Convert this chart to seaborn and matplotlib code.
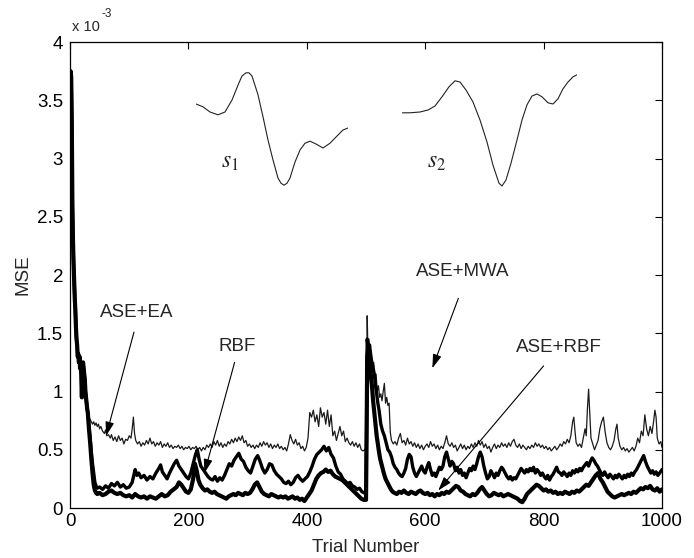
import matplotlib
matplotlib.use("Agg")
import matplotlib.pyplot as plt
import seaborn as sns

# MSE is stored in units of 1e-3 (the axis carries the "x 10^-3" factor)

# first 30 trials, all methods share the same start
early_trial = [0, 1, 2, 3, 4, 5, 6, 7, 8, 9, 10, 11, 12, 13, 14,
               15, 16, 17, 18, 19, 20, 21, 22, 23, 24, 25, 26, 27, 28, 29]
early_mse = [3.3, 3.75, 3.7, 3.3, 2.6, 2.3, 2.1, 1.95, 1.8, 1.7, 1.55, 1.45, 1.4, 1.3, 1.32,
             1.25, 1.3, 1.2, 1.22, 1.15, 0.95, 1.2, 1.25, 1.2, 1.15, 1.1, 1.0, 0.95, 0.9, 0.85]

# ASE+EA (thin upper line)
ea_trial = [30, 32, 34, 36, 38, 40, 42, 44, 46, 48,
            50, 52, 55, 58, 60, 62, 65, 68, 70, 73,
            76, 79, 82, 85, 88, 91, 94, 97, 100, 103,
            105, 107, 109, 111, 114, 117, 120, 123, 126, 129,
            132, 135, 138, 141, 144, 147, 150, 153, 156, 159,
            162, 165, 168, 171, 174, 177, 180, 183, 186, 189,
            192, 195, 198, 201, 204, 207, 210, 213, 216, 219,
            222, 225, 228, 231, 234, 237, 240, 243, 246, 249,
            252, 255, 258, 261, 264, 267, 270, 273, 276, 279,
            282, 285, 288, 291, 294, 297, 300, 303, 306, 309,
            312, 315, 318, 321, 324, 327, 330, 333, 336, 339,
            342, 345, 348, 351, 354, 357, 360, 363, 366, 369,
            372, 375, 378, 381, 384, 387, 390, 393, 396, 399,
            402, 405, 408, 411, 414, 417, 420, 423, 426, 429,
            432, 435, 438, 441, 444, 447, 450, 453, 456, 459,
            462, 465, 468, 471, 474, 477, 480, 483, 486, 489,
            492, 495, 498, 500, 501, 502, 503, 505, 507, 509,
            511, 513, 515, 517, 519, 521, 523, 525, 527, 529,
            531, 533, 535, 537, 539, 541, 543, 546, 549, 552,
            555, 558, 561, 564, 567, 570, 573, 576, 579, 582,
            585, 588, 591, 594, 597, 600, 603, 606, 609, 612,
            615, 618, 621, 624, 627, 630, 633, 636, 639, 642,
            645, 648, 651, 654, 657, 660, 663, 666, 669, 672,
            675, 678, 681, 684, 687, 690, 693, 696, 699, 702,
            705, 708, 711, 714, 717, 720, 723, 726, 729, 732,
            735, 738, 741, 744, 747, 750, 753, 756, 759, 762,
            765, 768, 771, 774, 777, 780, 783, 786, 789, 792,
            795, 798, 801, 804, 807, 810, 813, 816, 819, 822,
            825, 828, 831, 834, 837, 840, 843, 846, 849, 851,
            853, 855, 858, 861, 864, 867, 870, 872, 874, 876,
            878, 880, 883, 886, 889, 892, 895, 898, 901, 904,
            907, 910, 913, 916, 919, 922, 924, 926, 929, 932,
            935, 938, 941, 944, 947, 950, 953, 956, 959, 962,
            965, 968, 971, 974, 977, 980, 983, 986, 988, 990,
            992, 995, 998, 1000]
ea_mse = [0.85, 0.78, 0.76, 0.74, 0.72, 0.74, 0.71, 0.73, 0.70, 0.72,
          0.68, 0.70, 0.66, 0.64, 0.67, 0.62, 0.63, 0.60, 0.63, 0.58,
          0.61, 0.57, 0.62, 0.58, 0.60, 0.55, 0.59, 0.58, 0.62, 0.60,
          0.68, 0.78, 0.64, 0.58, 0.55, 0.57, 0.53, 0.56, 0.54, 0.58,
          0.55, 0.60, 0.55, 0.57, 0.53, 0.56, 0.54, 0.57, 0.52, 0.55,
          0.53, 0.56, 0.52, 0.54, 0.51, 0.53, 0.52, 0.54, 0.51, 0.53,
          0.50, 0.52, 0.51, 0.53, 0.50, 0.52, 0.51, 0.53, 0.50, 0.52,
          0.49, 0.52, 0.50, 0.54, 0.52, 0.55, 0.52, 0.57, 0.54, 0.58,
          0.53, 0.56, 0.52, 0.55, 0.53, 0.57, 0.55, 0.59, 0.56, 0.60,
          0.57, 0.61, 0.58, 0.62, 0.56, 0.58, 0.53, 0.55, 0.52, 0.54,
          0.51, 0.54, 0.52, 0.56, 0.53, 0.57, 0.54, 0.56, 0.52, 0.55,
          0.51, 0.54, 0.52, 0.55, 0.51, 0.53, 0.50, 0.52, 0.49, 0.55,
          0.63, 0.58, 0.55, 0.59, 0.54, 0.56, 0.51, 0.53, 0.49, 0.52,
          0.60, 0.82, 0.78, 0.84, 0.74, 0.80, 0.70, 0.86, 0.78, 0.82,
          0.72, 0.84, 0.70, 0.80, 0.62, 0.66, 0.58, 0.64, 0.70, 0.62,
          0.66, 0.57, 0.60, 0.56, 0.54, 0.57, 0.53, 0.56, 0.52, 0.55,
          0.50, 0.49, 0.50, 0.52, 1.10, 1.65, 1.40, 1.45, 1.30, 1.35,
          1.20, 1.25, 1.10, 1.15, 1.00, 1.05, 0.95, 0.98, 0.92, 1.00,
          1.07, 0.90, 0.95, 0.88, 0.90, 0.65, 0.58, 0.55, 0.57, 0.54,
          0.60, 0.64, 0.56, 0.58, 0.54, 0.60, 0.55, 0.57, 0.53, 0.56,
          0.52, 0.55, 0.51, 0.54, 0.50, 0.53, 0.55, 0.52, 0.57, 0.53,
          0.55, 0.51, 0.54, 0.50, 0.53, 0.51, 0.56, 0.62, 0.55, 0.53,
          0.56, 0.52, 0.54, 0.49, 0.52, 0.55, 0.51, 0.54, 0.50, 0.53,
          0.51, 0.55, 0.52, 0.56, 0.53, 0.58, 0.54, 0.57, 0.52, 0.55,
          0.51, 0.53, 0.48, 0.52, 0.55, 0.51, 0.54, 0.52, 0.56, 0.53,
          0.55, 0.52, 0.56, 0.53, 0.57, 0.59, 0.54, 0.52, 0.55, 0.51,
          0.54, 0.52, 0.50, 0.53, 0.51, 0.54, 0.52, 0.56, 0.53, 0.55,
          0.52, 0.54, 0.51, 0.53, 0.50, 0.52, 0.49, 0.51, 0.53, 0.50,
          0.52, 0.55, 0.53, 0.57, 0.55, 0.59, 0.56, 0.62, 0.74, 0.78,
          0.66, 0.56, 0.53, 0.55, 0.52, 0.60, 0.68, 0.62, 0.85, 1.02,
          0.80, 0.60, 0.55, 0.50, 0.54, 0.58, 0.68, 0.74, 0.78, 0.65,
          0.56, 0.52, 0.50, 0.53, 0.58, 0.68, 0.72, 0.60, 0.53, 0.50,
          0.52, 0.49, 0.51, 0.48, 0.50, 0.52, 0.49, 0.53, 0.60, 0.56,
          0.66, 0.62, 0.80, 0.68, 0.62, 0.70, 0.64, 0.75, 0.84, 0.78,
          0.60, 0.55, 0.57, 0.52]

# RBF (middle thick line)
rbf_trial = [30, 32, 34, 36, 38, 40, 42, 44, 46, 50,
             55, 60, 65, 70, 75, 80, 85, 90, 95, 100,
             105, 110, 113, 116, 120, 125, 130, 135, 140, 145,
             150, 153, 156, 160, 164, 168, 172, 176, 180, 184,
             188, 192, 196, 200, 204, 208, 212, 215, 218, 221,
             225, 229, 233, 237, 241, 245, 249, 253, 257, 261,
             265, 269, 273, 277, 281, 285, 289, 293, 297, 301,
             305, 309, 313, 317, 321, 325, 329, 333, 337, 341,
             345, 349, 353, 357, 361, 365, 369, 373, 377, 381,
             385, 389, 393, 397, 401, 405, 409, 413, 417, 421,
             425, 429, 433, 437, 441, 445, 449, 453, 457, 461,
             465, 469, 473, 477, 481, 485, 489, 493, 497, 500,
             501, 502, 504, 506, 508, 510, 512, 514, 516, 518,
             520, 522, 525, 528, 531, 534, 537, 540, 543, 546,
             549, 552, 555, 558, 561, 564, 567, 570, 573, 576,
             579, 582, 585, 588, 591, 594, 597, 600, 603, 606,
             609, 612, 615, 618, 621, 624, 627, 630, 633, 636,
             639, 642, 645, 648, 651, 654, 657, 660, 663, 666,
             669, 672, 675, 678, 681, 684, 687, 690, 693, 696,
             699, 702, 705, 708, 711, 714, 717, 720, 723, 726,
             729, 732, 735, 738, 741, 744, 747, 750, 753, 756,
             759, 762, 765, 768, 771, 774, 777, 780, 783, 786,
             789, 792, 795, 798, 801, 804, 807, 810, 813, 816,
             819, 822, 825, 828, 831, 834, 837, 840, 843, 846,
             849, 852, 855, 858, 861, 864, 867, 870, 873, 876,
             879, 882, 885, 888, 891, 894, 897, 900, 903, 906,
             909, 912, 915, 918, 921, 924, 927, 930, 933, 936,
             939, 942, 945, 948, 951, 954, 957, 960, 963, 966,
             969, 972, 975, 978, 981, 984, 987, 990, 993, 996,
             1000]
rbf_mse = [0.82, 0.70, 0.60, 0.48, 0.38, 0.30, 0.22, 0.19, 0.17, 0.18,
           0.16, 0.19, 0.17, 0.21, 0.19, 0.22, 0.18, 0.20, 0.17, 0.18,
           0.22, 0.33, 0.28, 0.30, 0.26, 0.28, 0.24, 0.27, 0.25, 0.30,
           0.34, 0.37, 0.31, 0.28, 0.25, 0.30, 0.34, 0.38, 0.41, 0.36,
           0.33, 0.30, 0.27, 0.25, 0.30, 0.38, 0.46, 0.50, 0.42, 0.36,
           0.33, 0.30, 0.27, 0.25, 0.24, 0.27, 0.23, 0.26, 0.24, 0.28,
           0.33, 0.38, 0.36, 0.41, 0.44, 0.47, 0.42, 0.40, 0.35, 0.32,
           0.30, 0.36, 0.42, 0.45, 0.40, 0.34, 0.30, 0.33, 0.38, 0.37,
           0.32, 0.29, 0.27, 0.25, 0.22, 0.21, 0.23, 0.20, 0.22, 0.26,
           0.28, 0.25, 0.23, 0.25, 0.27, 0.31, 0.36, 0.42, 0.46, 0.48,
           0.50, 0.53, 0.49, 0.52, 0.46, 0.43, 0.36, 0.31, 0.29, 0.25,
           0.23, 0.21, 0.22, 0.19, 0.18, 0.16, 0.17, 0.14, 0.13, 0.12,
           0.80, 1.45, 1.35, 1.40, 1.30, 1.25, 1.20, 1.15, 1.05, 0.98,
           0.90, 0.84, 0.72, 0.66, 0.62, 0.56, 0.50, 0.48, 0.44, 0.38,
           0.35, 0.33, 0.30, 0.28, 0.27, 0.30, 0.34, 0.42, 0.46, 0.44,
           0.35, 0.30, 0.27, 0.30, 0.33, 0.36, 0.32, 0.30, 0.35, 0.39,
           0.33, 0.28, 0.30, 0.27, 0.31, 0.35, 0.33, 0.36, 0.44, 0.48,
           0.42, 0.36, 0.40, 0.38, 0.32, 0.35, 0.30, 0.33, 0.28, 0.30,
           0.26, 0.30, 0.34, 0.32, 0.36, 0.33, 0.38, 0.44, 0.48, 0.44,
           0.36, 0.30, 0.25, 0.27, 0.32, 0.29, 0.26, 0.30, 0.28, 0.32,
           0.35, 0.33, 0.30, 0.27, 0.25, 0.27, 0.24, 0.26, 0.25, 0.28,
           0.31, 0.34, 0.32, 0.30, 0.33, 0.31, 0.34, 0.32, 0.35, 0.30,
           0.33, 0.31, 0.28, 0.30, 0.27, 0.25, 0.28, 0.24, 0.27, 0.29,
           0.32, 0.35, 0.31, 0.30, 0.28, 0.31, 0.29, 0.27, 0.30, 0.28,
           0.32, 0.30, 0.33, 0.31, 0.34, 0.32, 0.35, 0.37, 0.39, 0.36,
           0.40, 0.43, 0.41, 0.38, 0.36, 0.33, 0.30, 0.28, 0.31, 0.28,
           0.26, 0.29, 0.27, 0.25, 0.28, 0.26, 0.29, 0.27, 0.25, 0.28,
           0.26, 0.29, 0.27, 0.30, 0.28, 0.31, 0.33, 0.36, 0.39, 0.42,
           0.45, 0.40, 0.36, 0.33, 0.30, 0.32, 0.29, 0.31, 0.28, 0.30,
           0.33]

# ASE+RBF (bottom, heaviest line)
aserbf_trial = [30, 32, 34, 36, 38, 40, 42, 44, 46, 50,
                55, 60, 65, 70, 75, 80, 85, 90, 95, 100,
                105, 110, 115, 120, 125, 130, 135, 140, 145, 150,
                155, 160, 165, 170, 175, 180, 184, 188, 192, 196,
                200, 204, 208, 211, 214, 217, 220, 224, 228, 232,
                236, 240, 244, 248, 252, 256, 260, 264, 268, 272,
                276, 280, 284, 288, 292, 296, 300, 304, 308, 312,
                316, 320, 324, 328, 332, 336, 340, 344, 348, 352,
                356, 360, 364, 368, 372, 376, 380, 384, 388, 392,
                396, 400, 404, 408, 412, 416, 420, 424, 428, 432,
                436, 440, 444, 448, 452, 456, 460, 464, 468, 472,
                476, 480, 484, 488, 492, 496, 500, 501, 502, 504,
                506, 508, 510, 512, 514, 516, 518, 520, 522, 524,
                527, 530, 533, 536, 539, 542, 545, 548, 552, 556,
                560, 564, 568, 572, 576, 580, 584, 588, 592, 596,
                600, 604, 608, 612, 616, 620, 624, 628, 632, 636,
                640, 644, 648, 652, 656, 660, 664, 668, 672, 676,
                680, 684, 688, 692, 696, 700, 704, 708, 712, 716,
                720, 724, 728, 732, 736, 740, 744, 748, 752, 756,
                760, 764, 768, 772, 776, 780, 784, 788, 792, 796,
                800, 804, 808, 812, 816, 820, 824, 828, 832, 836,
                840, 844, 848, 852, 856, 860, 864, 868, 872, 876,
                880, 884, 888, 892, 896, 900, 904, 908, 912, 916,
                920, 924, 928, 932, 936, 940, 944, 948, 952, 956,
                960, 964, 968, 972, 976, 980, 984, 988, 992, 996,
                1000]
aserbf_mse = [0.82, 0.68, 0.56, 0.42, 0.30, 0.20, 0.15, 0.13, 0.12, 0.13,
              0.11, 0.12, 0.14, 0.15, 0.13, 0.12, 0.13, 0.11, 0.10, 0.11,
              0.09, 0.12, 0.10, 0.09, 0.10, 0.08, 0.10, 0.09, 0.08, 0.10,
              0.12, 0.10, 0.11, 0.14, 0.16, 0.18, 0.22, 0.20, 0.17, 0.14,
              0.13, 0.16, 0.25, 0.38, 0.32, 0.24, 0.20, 0.17, 0.15, 0.16,
              0.14, 0.13, 0.14, 0.12, 0.11, 0.10, 0.09, 0.08, 0.10, 0.11,
              0.12, 0.11, 0.13, 0.12, 0.11, 0.13, 0.12, 0.13, 0.16, 0.20,
              0.22, 0.18, 0.14, 0.12, 0.11, 0.10, 0.12, 0.11, 0.10, 0.09,
              0.10, 0.09, 0.10, 0.08, 0.09, 0.10, 0.08, 0.09, 0.07, 0.08,
              0.06, 0.09, 0.12, 0.15, 0.20, 0.25, 0.28, 0.30, 0.31, 0.33,
              0.31, 0.32, 0.29, 0.27, 0.26, 0.25, 0.24, 0.22, 0.20, 0.18,
              0.16, 0.14, 0.12, 0.10, 0.08, 0.07, 0.07, 0.60, 1.30, 1.38,
              1.30, 1.15, 1.05, 0.92, 0.82, 0.72, 0.62, 0.55, 0.48, 0.42,
              0.36, 0.30, 0.25, 0.22, 0.19, 0.16, 0.14, 0.13, 0.12, 0.14,
              0.13, 0.15, 0.13, 0.12, 0.14, 0.13, 0.12, 0.14, 0.15, 0.13,
              0.12, 0.13, 0.11, 0.12, 0.10, 0.12, 0.11, 0.13, 0.12, 0.14,
              0.13, 0.15, 0.17, 0.19, 0.18, 0.15, 0.14, 0.12, 0.11, 0.10,
              0.12, 0.11, 0.13, 0.16, 0.18, 0.15, 0.12, 0.10, 0.11, 0.13,
              0.12, 0.11, 0.12, 0.10, 0.11, 0.12, 0.11, 0.10, 0.09, 0.08,
              0.06, 0.05, 0.08, 0.12, 0.14, 0.16, 0.18, 0.20, 0.19, 0.17,
              0.15, 0.16, 0.14, 0.15, 0.13, 0.14, 0.12, 0.13, 0.12, 0.14,
              0.13, 0.12, 0.14, 0.13, 0.15, 0.14, 0.16, 0.18, 0.20, 0.19,
              0.22, 0.25, 0.28, 0.30, 0.25, 0.22, 0.18, 0.14, 0.12, 0.10,
              0.09, 0.10, 0.11, 0.12, 0.11, 0.12, 0.13, 0.12, 0.14, 0.13,
              0.15, 0.17, 0.16, 0.18, 0.17, 0.19, 0.16, 0.15, 0.17, 0.14,
              0.16]

# the two signal shapes drawn in the top of the plot
s1_time = [0, 7, 14, 22, 29, 36, 43, 46, 50, 53, 56, 62, 67, 72, 77, 82, 85, 88,
           91, 94, 99, 104, 109, 114, 120, 127, 134, 141, 147, 152]
s1_amp = [0.90, 0.83, 0.70, 0.63, 0.70, 1.00, 1.43, 1.60, 1.68, 1.68, 1.60, 1.13, 0.58,
          0.0, -0.50, -0.95, -1.08, -1.13, -1.08, -0.95, -0.55, -0.25, -0.08, -0.03,
          -0.10, -0.20, -0.08, 0.10, 0.25, 0.30]
s2_time = [0, 8, 18, 26, 33, 40, 47, 53, 58, 64, 71, 78, 85, 91, 97, 100, 104, 109,
           115, 120, 125, 130, 135, 140, 146, 151, 156, 161, 166, 171, 175]
s2_amp = [0.68, 0.68, 0.70, 0.75, 0.85, 1.08, 1.33, 1.48, 1.45, 1.25, 0.95, 0.50, -0.05,
          -0.63, -1.08, -1.15, -1.00, -0.58, 0.0, 0.50, 0.88, 1.10, 1.15, 1.08, 0.93,
          0.90, 1.03, 1.28, 1.45, 1.58, 1.63]

x_ticks = [0, 200, 400, 600, 800, 1000]
y_ticks = [0, 0.5, 1, 1.5, 2, 2.5, 3, 3.5, 4]
y_tick_labels = ["0", "0.5", "1", "1.5", "2", "2.5", "3", "3.5", "4"]

FONT_SIZE = 13.5

sns.set_style("white")
plt.rcParams["font.family"] = ["Liberation Sans", "DejaVu Sans"]
plt.rcParams["mathtext.fontset"] = "stix"

fig = plt.figure(figsize=(6.94, 5.58), dpi=100)
ax = fig.add_axes([0.1009, 0.0896, 0.853, 0.835])

# three learning curves
sns.lineplot(x=early_trial + ea_trial, y=early_mse + ea_mse, ax=ax,
             color="#1a1a1a", linewidth=0.9, sort=False, estimator=None)
sns.lineplot(x=early_trial + rbf_trial, y=early_mse + rbf_mse, ax=ax,
             color="black", linewidth=2.4, sort=False, estimator=None)
sns.lineplot(x=early_trial + aserbf_trial, y=early_mse + aserbf_mse, ax=ax,
             color="black", linewidth=3.0, sort=False, estimator=None)

ax.set_xlim(0, 1000)
ax.set_ylim(0, 4)
ax.set_xticks(x_ticks)
ax.set_xticklabels([str(t) for t in x_ticks])
ax.set_yticks(y_ticks)
ax.set_yticklabels(y_tick_labels)
ax.tick_params(direction="in", length=5, width=0.8, top=True, right=True,
               labelsize=FONT_SIZE, colors="black")
ax.tick_params(axis="y", pad=5)
ax.tick_params(axis="x", pad=3.5)
for spine in ax.spines.values():
    spine.set_visible(True)
    spine.set_color("black")
    spine.set_linewidth(0.9)
ax.set_xlabel("")
ax.set_ylabel("")

fig.text(366 / 694, 1 - 548 / 558, "Trial Number", ha="center", va="center", fontsize=FONT_SIZE)
fig.text(23 / 694, 1 - 275 / 558, "MSE", ha="center", va="center", rotation=90, fontsize=FONT_SIZE)
fig.text(72 / 694, 1 - 27 / 558, "x 10", ha="left", va="center", fontsize=10.5)
fig.text(102 / 694, 1 - 14 / 558, "-3", ha="left", va="center", fontsize=8.5)

# annotations with arrows
arrow_kw = dict(arrowstyle="-|>,head_length=0.7,head_width=0.22", color="black",
                lw=0.8, shrinkA=0, shrinkB=0, mutation_scale=12)
labels = [("ASE+EA", (112, 1.68), (108, 1.51), (61, 0.62)),
          ("RBF", (283, 1.39), (278, 1.25), (227, 0.30)),
          ("ASE+MWA", (664, 2.03), (656, 1.80), (612, 1.20)),
          ("ASE+RBF", (825, 1.38), (800, 1.22), (622, 0.15))]
for text, text_pos, tail, head in labels:
    ax.text(text_pos[0], text_pos[1], text, ha="center", va="center", fontsize=FONT_SIZE)
    ax.annotate("", xy=head, xytext=tail, arrowprops=arrow_kw)

# signal shape insets
ax_s1 = fig.add_axes([196 / 694, 1 - 190 / 558, 152 / 694, 120 / 558])
sns.lineplot(x=s1_time, y=s1_amp, ax=ax_s1, color="#222222", linewidth=0.8,
             sort=False, estimator=None)
ax_s2 = fig.add_axes([402 / 694, 1 - 190 / 558, 175 / 694, 120 / 558])
sns.lineplot(x=s2_time, y=s2_amp, ax=ax_s2, color="#222222", linewidth=0.8,
             sort=False, estimator=None)
for a, t in [(ax_s1, s1_time), (ax_s2, s2_time)]:
    a.set_xlim(t[0], t[-1])
    a.set_ylim(-1.25, 1.75)
    a.axis("off")
    a.patch.set_alpha(0)

fig.text(230 / 694, 1 - 162 / 558, "$s_1$", ha="center", va="center", fontsize=17)
fig.text(437 / 694, 1 - 162 / 558, "$s_2$", ha="center", va="center", fontsize=17)

fig.savefig("out.png", dpi=100)
